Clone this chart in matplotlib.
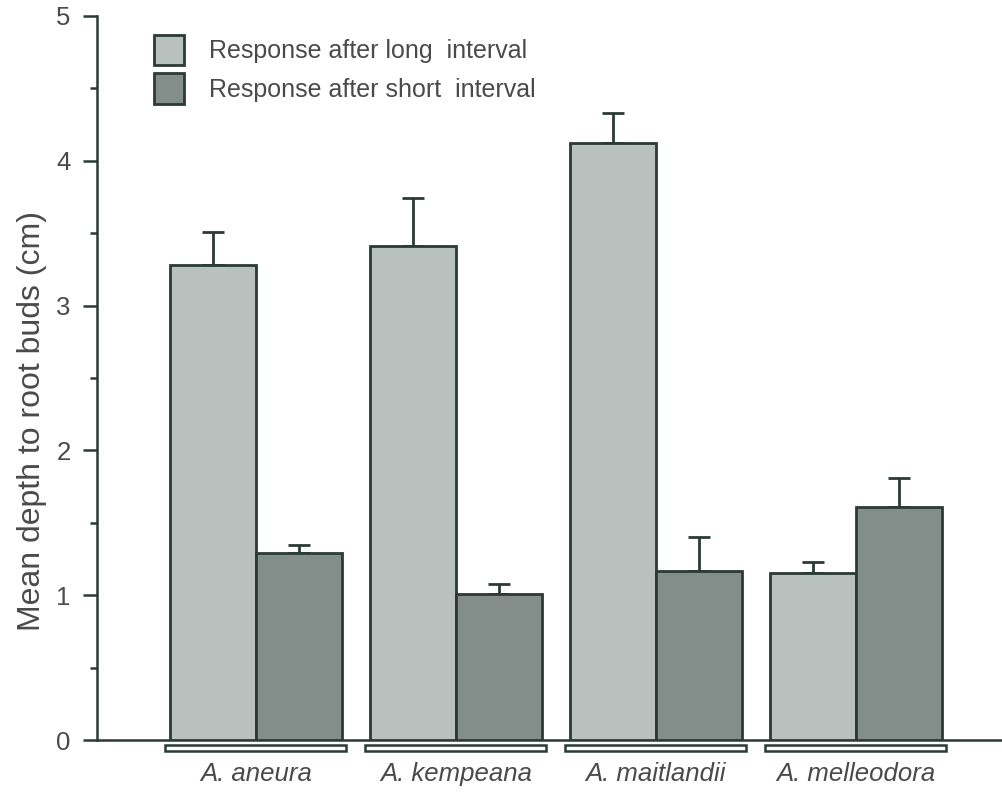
import matplotlib.pyplot as plt
import numpy as np
from matplotlib.patches import Rectangle, Patch

species = ["A. aneura", "A. kempeana", "A. maitlandii", "A. melleodora"]
long_mean = [3.28, 3.41, 4.12, 1.15]
long_se = [0.23, 0.33, 0.21, 0.08]
short_mean = [1.29, 1.01, 1.17, 1.61]
short_se = [0.06, 0.07, 0.23, 0.20]

light = "#b9c1be"
dark = "#838e8a"
edge = "#2b3a35"
txt = "#4a4a4a"

plt.rcParams["font.family"] = ["Liberation Sans", "DejaVu Sans"]

fig = plt.figure(figsize=(10.02, 7.97), dpi=100)
ax = fig.add_axes([0.0968, 0.0715, 0.9032, 0.9085])

x = np.arange(len(species))
w = 0.43
ax.bar(x - w / 2, long_mean, width=w, color=light, edgecolor=edge, linewidth=2, zorder=3)
ax.bar(x + w / 2, short_mean, width=w, color=dark, edgecolor=edge, linewidth=2, zorder=3)

# upper-only error bars
ax.errorbar(x - w / 2, long_mean, yerr=[np.zeros(4), long_se], fmt="none",
            ecolor=edge, elinewidth=2, capsize=8, capthick=2, zorder=2)
ax.errorbar(x + w / 2, short_mean, yerr=[np.zeros(4), short_se], fmt="none",
            ecolor=edge, elinewidth=2, capsize=8, capthick=2, zorder=2)

# white strips under each group
for xi in x:
    ax.add_patch(Rectangle((xi - 0.4525, -0.076), 0.905, 0.042, facecolor="white",
                           edgecolor=edge, linewidth=1.8, clip_on=False, zorder=4))

ax.set_xlim(-0.795, 3.73)
ax.set_ylim(0, 5)
ax.set_yticks([0, 1, 2, 3, 4, 5])
ax.set_yticks(np.arange(0.5, 5, 1), minor=True)
ax.tick_params(axis="y", which="major", length=10, width=1.8, color=edge,
               labelsize=18.5, labelcolor=txt, pad=9)
ax.tick_params(axis="y", which="minor", length=5, width=1.8, color=edge)
ax.set_xticks(x)
ax.set_xticklabels(species, style="italic", fontsize=18.5, color=txt)
ax.tick_params(axis="x", length=0, pad=16)

for s in ["top", "right"]:
    ax.spines[s].set_visible(False)
ax.spines["left"].set_linewidth(1.8)
ax.spines["left"].set_color(edge)
ax.spines["bottom"].set_linewidth(1.8)
ax.spines["bottom"].set_color(edge)

ax.set_ylabel("Mean depth to root buds (cm)", fontsize=23, color=txt)
ax.yaxis.set_label_coords(-0.055, 0.44)

handles = [
    Patch(facecolor=light, edgecolor=edge, linewidth=2, label="Response after long  interval"),
    Patch(facecolor=dark, edgecolor=edge, linewidth=2, label="Response after short  interval"),
]
ax.legend(handles=handles, loc="upper left", bbox_to_anchor=(0.0376, 1.005), frameon=False,
          fontsize=18, labelcolor=txt, handlelength=1.23, handleheight=1.51,
          handletextpad=1.0, labelspacing=0.3)

fig.savefig("out.png", dpi=100, facecolor="white")
